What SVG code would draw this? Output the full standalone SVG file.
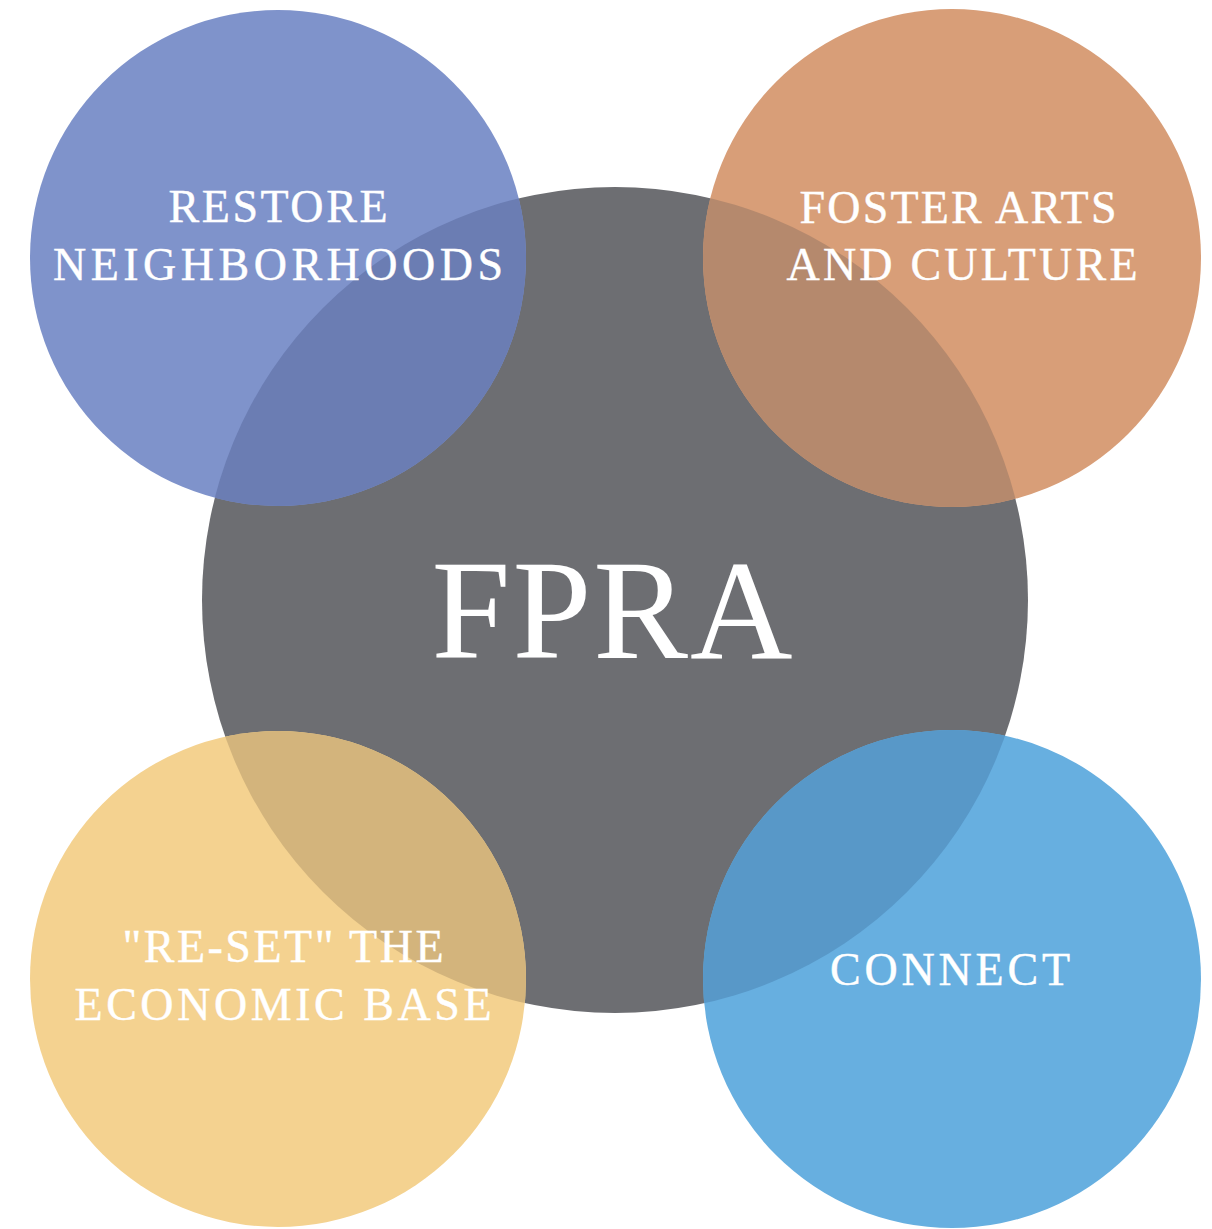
<svg xmlns="http://www.w3.org/2000/svg" width="1212" height="1229" viewBox="0 0 1212 1229">
<style>
.lbl{font-family:"Liberation Serif","DejaVu Serif",serif;fill:#ffffff;text-anchor:middle;font-size:46px;stroke:#ffffff;stroke-width:0.4px}
.big{font-family:"Liberation Serif","DejaVu Serif",serif;fill:#ffffff;text-anchor:middle;font-size:142px}
</style>
<defs>
<clipPath id="cc"><circle cx="615" cy="600" r="413"/></clipPath>
</defs>
<rect width="1212" height="1229" fill="#ffffff"/>
<g id="center">
<circle cx="615" cy="600" r="413" fill="#6d6e72"/>
</g>
<g id="restore">
<circle cx="278" cy="258" r="248" fill="#7f93cb"/>
<circle cx="278" cy="258" r="248" fill="#6b7db3" clip-path="url(#cc)"/>
</g>
<g id="foster">
<circle cx="952" cy="258" r="249" fill="#d89e78"/>
<circle cx="952" cy="258" r="249" fill="#b5896d" clip-path="url(#cc)"/>
</g>
<g id="reset">
<circle cx="278" cy="979" r="248" fill="#f4d290"/>
<circle cx="278" cy="979" r="248" fill="#d3b47c" clip-path="url(#cc)"/>
</g>
<g id="connect">
<circle cx="952" cy="979" r="249" fill="#67afe0"/>
<circle cx="952" cy="979" r="249" fill="#5898c8" clip-path="url(#cc)"/>
</g>
<g id="connectors"></g>
<g id="labels">
<text class="big" x="612" y="658" textLength="361" lengthAdjust="spacing">FPRA</text>
<text class="lbl" x="278" y="222" textLength="219" lengthAdjust="spacing">RESTORE</text>
<text class="lbl" x="278" y="280" textLength="450" lengthAdjust="spacing">NEIGHBORHOODS</text>
<text class="lbl" x="958" y="223" textLength="317" lengthAdjust="spacing">FOSTER ARTS</text>
<text class="lbl" x="962" y="280" textLength="351" lengthAdjust="spacing">AND CULTURE</text>
<text class="lbl" x="283" y="962" textLength="321" lengthAdjust="spacing">"RE-SET" THE</text>
<text class="lbl" x="283" y="1020" textLength="417" lengthAdjust="spacing">ECONOMIC BASE</text>
<text class="lbl" x="950" y="985" textLength="240" lengthAdjust="spacing">CONNECT</text>
</g>
</svg>
